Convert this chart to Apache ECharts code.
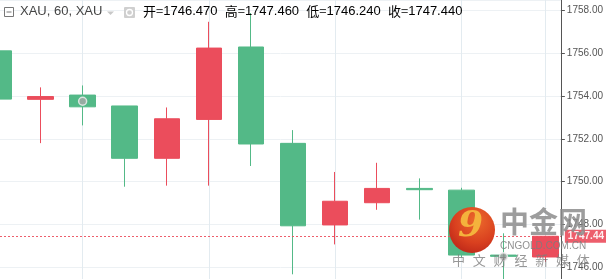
<!DOCTYPE html>
<html>
<head>
<meta charset="utf-8">
<script src="https://cdn.jsdelivr.net/npm/echarts@6/dist/echarts.min.js"></script>
<style>
html,body{margin:0;padding:0;background:#fff;}
#c{width:606px;height:279px;}
</style>
</head>
<body>
<div id="c"></div>
<script>
// ---- data ----
const slots  = [0, 1, 2, 3, 4, 5, 6, 7, 8, 9, 10, 11, 12, 13];
const opens  = [1756.12, 1753.85, 1754.05, 1753.54, 1751.09, 1752.91, 1756.30, 1751.79, 1747.97, 1749.01, 1749.68, 1749.60, 1746.56, 1746.47];
const closes = [1753.86, 1753.98, 1753.50, 1751.09, 1752.94, 1756.25, 1751.76, 1747.93, 1749.08, 1749.68, 1749.62, 1746.56, 1746.50, 1747.44];
const lows   = [1753.86, 1751.80, 1752.63, 1749.76, 1749.81, 1749.81, 1750.73, 1745.66, 1747.06, 1748.68, 1748.22, 1746.45, 1745.20, 1746.24];
const highs  = [1756.12, 1754.41, 1754.50, 1753.54, 1753.47, 1757.48, 1757.89, 1752.41, 1750.45, 1750.88, 1750.15, 1749.71, 1747.58, 1747.46];
const vGridSlots = [2, 5, 8, 11, 13];
const markerPoints = [[2, 1753.76], [12, 1746.48]];
const titleText = 'XAU, 60, XAU';
const ohlcLabels = ['开=', '高=', '低=', '收='];
const ohlcValues = ['1746.470', '1747.460', '1746.240', '1747.440'];
const lastPrice = 1747.44;
const wmTitle = '中金网';
const wmSite = 'CNGOLD.COM.CN';
const wmSlogan = ['中', '文', '财', '经', '新', '媒', '体'];

const UP = '#eb4d5c', DOWN = '#53b987';
const candleData = slots.map((s, i) => [s, opens[i], closes[i], lows[i], highs[i]]);

const chart = echarts.init(document.getElementById('c'), null, {renderer: 'canvas'});

let rich = {l: {color: '#444', fontSize: 13, fontFamily: '"Noto Sans CJK SC", "Liberation Sans", sans-serif'},
            v: {color: UP, fontSize: 13, fontFamily: '"Liberation Sans", Arial, sans-serif'}};
let ohlcStr = ohlcLabels.map((l, i) => '{l|' + l + '}{v|' + ohlcValues[i] + '}').join('{v|  }');

const sloganGraphics = wmSlogan.map((ch, i) => ({
  type: 'text', left: 452 + i * 20.8, top: 254, silent: true, z: 100,
  style: {text: ch, fontSize: 13, fill: 'rgba(125,125,125,0.8)', fontFamily: '"Noto Sans CJK SC", sans-serif'}
}));

chart.setOption({
  animation: false,
  grid: {left: 0, right: 39, top: 0, bottom: 0, containLabel: false},
  xAxis: {
    type: 'value', min: 0.036, max: 13.365,
    show: false, splitLine: {show: false}
  },
  yAxis: {
    type: 'value', position: 'right', scale: true,
    min: 1745.44, max: 1758.5, minInterval: 2, maxInterval: 2, splitNumber: 6,
    axisLine: {show: true, lineStyle: {color: '#555', width: 1}},
    axisTick: {show: true, inside: false, length: 4, lineStyle: {color: '#555'}},
    axisLabel: {show: true, showMinLabel: false, showMaxLabel: false, margin: 6,
      color: '#555', fontSize: 10, fontFamily: '"Liberation Sans", Arial, sans-serif',
      formatter: v => v.toFixed(2)},
    splitLine: {show: true, lineStyle: {color: '#edf1f4', width: 1}}
  },
  series: [
    {
      type: 'line', data: [], silent: true, z: 1,
      markLine: {
        silent: true, symbol: 'none', z: 1, animation: false,
        label: {show: false},
        lineStyle: {color: '#e3ebf0', type: 'solid', width: 1},
        data: vGridSlots.map(s => ({xAxis: s}))
      }
    },
    {
      type: 'candlestick', z: 3,
      barWidth: 26,
      encode: {x: 0, y: [1, 2, 3, 4]},
      data: candleData,
      itemStyle: {color: UP, color0: DOWN, borderColor: UP, borderColor0: DOWN, borderWidth: 1},
      markLine: {
        silent: true, symbol: 'none', z: 4, animation: false,
        lineStyle: {color: UP, type: [2, 2], width: 1, opacity: 0.9},
        label: {show: true, position: 'end', distance: 4, formatter: () => lastPrice.toFixed(2),
          backgroundColor: UP, color: '#fff', fontSize: 10, fontWeight: 'bold', padding: [2, 3, 1, 3],
          fontFamily: '"Liberation Sans", Arial, sans-serif'},
        data: [{yAxis: lastPrice}]
      }
    },
    {
      type: 'scatter', z: 5, silent: true,
      data: markerPoints, symbol: 'circle', symbolSize: 8,
      itemStyle: {color: '#a9a9a9', borderColor: '#f2f2f2', borderWidth: 1.5}
    }
  ],
  graphic: [
    // header icons
    {type: 'rect', shape: {x: 4.5, y: 7.5, width: 9, height: 9}, style: {fill: '#fff', stroke: '#777', lineWidth: 1}, z: 50},
    {type: 'line', shape: {x1: 6.5, y1: 12, x2: 11.5, y2: 12}, style: {stroke: '#777', lineWidth: 1}, z: 51},
    {type: 'text', left: 20, top: 5, z: 50, style: {text: titleText, fill: '#444', fontSize: 13, fontFamily: '"Liberation Sans", Arial, sans-serif'}},
    {type: 'polygon', shape: {points: [[107, 11.5], [114, 11.5], [110.5, 15]]}, style: {fill: '#c8c8c8'}, z: 50},
    {type: 'rect', shape: {x: 124, y: 7, width: 11, height: 11, r: 1}, style: {fill: '#cfcfcf'}, z: 50},
    {type: 'circle', shape: {cx: 129.5, cy: 12.5, r: 3}, style: {fill: 'none', stroke: '#fff', lineWidth: 1.3}, z: 51},
    {type: 'text', left: 143, top: 5, z: 50, style: {text: ohlcStr, rich: rich}},
    // watermark
    {type: 'circle', shape: {cx: 472, cy: 230, r: 23}, z: 100, silent: true,
      style: {fill: {type: 'radial', x: 0.6, y: 0.3, r: 0.8,
        colorStops: [{offset: 0, color: '#ec6a2c'}, {offset: 0.6, color: '#d9401f'}, {offset: 1, color: '#b92418'}]}}},
    {type: 'text', left: 458, top: 209, z: 101, silent: true,
      style: {text: '9', fontSize: 36, fontWeight: 'bold', fontStyle: 'italic',
        fill: '#f4b23c', fontFamily: '"DejaVu Serif", serif'}},
    {type: 'text', left: 500, top: 207, z: 100, silent: true,
      style: {text: wmTitle, fontSize: 29, fontWeight: 'bold', fill: 'rgba(140,140,140,0.85)',
        fontFamily: '"Noto Sans CJK SC", sans-serif'}},
    {type: 'text', left: 500, top: 241, z: 100, silent: true,
      style: {text: wmSite, fontSize: 10, fill: 'rgba(125,125,125,0.85)', fontFamily: '"Liberation Sans", Arial, sans-serif'}}
  ].concat(sloganGraphics)
});
</script>
</body>
</html>
